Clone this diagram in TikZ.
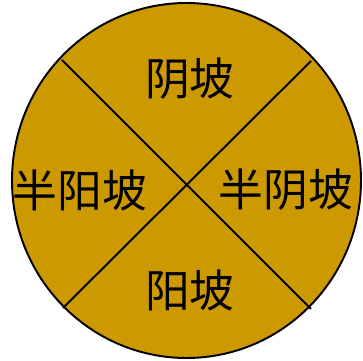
\documentclass[tikz,border=0pt]{standalone}
\usepackage{fontspec}
\newfontfamily\cjk{Noto Sans CJK SC}
\definecolor{slopefill}{HTML}{CC9900}

\begin{document}
\begin{tikzpicture}[x=0.02cm, y=-0.02cm, line width=1.1pt,
      lbl/.style={font=\cjk\fontsize{25.5}{25.5}\selectfont, inner sep=0pt, anchor=center}]

    % Picture frame (pixel units of the reference)
    \useasboundingbox (0,0) rectangle (363,361);

    % Disc
    \def\cx{186.5}
    \def\cy{180.5}
    \draw[fill=slopefill] (\cx,\cy) ellipse [x radius=174.5, y radius=177.5];

    % Ends of the two dividing lines on the rim
    \coordinate (nw) at (62,60);
    \coordinate (ne) at (311,61);
    \coordinate (sw) at (63,308);
    \coordinate (se) at (311,309);
    \draw (nw) -- (se);
    \draw (ne) -- (sw);

    % Slope labels
    \node[lbl] (north) at (190,79)  {阴坡};
    \node[lbl] (west)  at (80,190)  {半阳坡};
    \node[lbl] (east)  at (286,190) {半阴坡};
    \node[lbl] (south) at (190,290) {阳坡};

\end{tikzpicture}
\end{document}
